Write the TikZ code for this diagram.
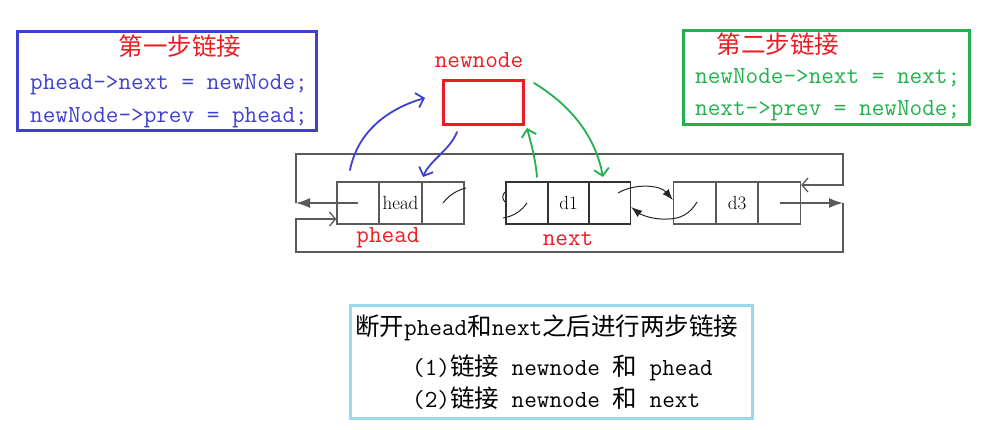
\documentclass[tikz,border=0pt]{standalone}
\usepackage{fontspec}
\newfontfamily\cjk{Noto Sans CJK SC}
\usetikzlibrary{arrows.meta}
\definecolor{cblue}{RGB}{64,64,208}
\definecolor{cgreen}{RGB}{34,177,76}
\definecolor{cred}{RGB}{237,28,36}
\definecolor{clblue}{RGB}{153,217,234}
\definecolor{cgray}{RGB}{90,90,90}
\newcommand\fszbig{\fontsize{24.5}{28}\selectfont}
\begin{document}
\begin{tikzpicture}[x=1pt,y=-1pt,
  framebox/.style={draw, line width=3pt, inner sep=0pt},
  cell/.style={draw=cgray, line width=1.3pt, minimum width=42pt, minimum height=42pt, inner sep=0pt, font=\fontsize{19}{22}\selectfont},
  code/.style={anchor=base west, inner sep=0pt, font=\ttfamily\fszbig},
  steptitle/.style={inner sep=0pt, text=cred, font=\cjk\fszbig},
  redlabel/.style={anchor=base, inner sep=0pt, text=cred, font=\ttfamily\fszbig},
  hand/.style={line width=1.8pt, line cap=round, line join=round, -{Straight Barb[length=7pt,width=15pt]}},
  loopline/.style={draw=cgray, line width=1.3pt},
  ptr/.style={draw=black!85, line width=1pt},
  filled/.style={-{Latex[length=14pt,width=10pt]}},
  openarr/.style={-{Straight Barb[length=6pt,width=14pt]}}
]
\useasboundingbox (0,0) rectangle (983,429);

% ---- frames ----
\node[framebox, draw=cblue, minimum width=299pt, minimum height=99pt] (bluebox) at (166.5,80.5) {};
\node[framebox, draw=cgreen, minimum width=286pt, minimum height=94pt] (greenbox) at (826,77) {};
\node[framebox, draw=clblue, minimum width=402pt, minimum height=113pt] (notebox) at (551,361.5) {};
\node[framebox, draw=cred, minimum width=80pt, minimum height=44pt] (newbox) at (483,102) {};

% ---- texts in frames ----
\node[steptitle] (t1) at (180,46) {第一步链接};
\node[code, text=cblue] (c11) at (30,89) {phead->next = newNode;};
\node[code, text=cblue] (c12) at (30,122) {newNode->prev = phead;};
\node[steptitle] (t2) at (778,44) {第二步链接};
\node[code, text=cgreen] (c21) at (695,83) {newNode->next = next;};
\node[code, text=cgreen] (c22) at (695,115) {next->prev = newNode;};
\node[code] (n1) at (355,335) {{\cjk 断开}phead{\cjk 和}next{\cjk 之后进行两步链接}};
\node[code] (n2) at (412,375) {(1){\cjk 链接} newnode {\cjk 和} phead};
\node[code] (n3) at (412,407) {(2){\cjk 链接} newnode {\cjk 和} next};

% ---- red labels ----
\node[redlabel] (lnew) at (479,67) {newnode};
\node[redlabel] (lphead) at (388,242) {phead};
\node[redlabel] (lnext) at (568,245) {next};

% ---- list nodes ----
\node[cell] (h1) at (358,203) {};
\node[cell] (h2) at (400.5,203) {head};
\node[cell] (h3) at (443,203) {};
\node[cell, draw=black!80] (d11) at (527,203) {};
\node[cell, draw=black!80] (d12) at (568.5,203) {d1};
\node[cell, draw=black!80] (d13) at (609.5,203) {};
\node[cell] (d31) at (694.5,203) {};
\node[cell] (d32) at (737,203) {d3};
\node[cell] (d33) at (779.5,203) {};

% ---- loop coordinates ----
\coordinate (L1) at (296,203);
\coordinate (TL) at (296,154);
\coordinate (TR) at (843,154);
\coordinate (R1) at (843,185);
\coordinate (R2) at (843,203);
\coordinate (BR) at (843,252);
\coordinate (BL) at (296,252);
\coordinate (L2) at (296,219);

\draw[loopline, filled] (h1.center) -- (L1);
\draw[loopline, openarr] (L1) -- (TL) -- (TR) -- (R1) -- ([yshift=18pt]d33.east);
\draw[loopline, filled] (d33.center) -- (R2);
\draw[loopline, openarr] (R2) -- (BR) -- (BL) -- (L2) -- ([yshift=-16pt]h1.west);

% ---- broken pointers ----
\draw[ptr] (h3.center) .. controls (450,194) and (458,190) .. (466,188);
\draw[ptr] (503,218) .. controls (515,216) and (522,210) .. (d11.center);
\draw[ptr] (505,192) .. controls (502,195) and (502,199) .. (505,202);
\draw[ptr, -{Latex[length=11pt,width=8pt]}] (618,193) .. controls (635,183) and (660,185) .. ([yshift=3pt]d31.west);
\draw[ptr, -{Latex[length=11pt,width=8pt]}] (697,202) .. controls (690,214) and (680,219) .. (668,219) .. controls (652,220) and (640,214) .. ([yshift=-4pt]d13.east);

% ---- hand-drawn arrows ----
\coordinate (b1s) at (350,170);
\coordinate (b1e) at (425,98);
\coordinate (b2s) at (457,132);
\coordinate (b2e) at (423,177);
\coordinate (g1s) at (537,177);
\coordinate (g1e) at (527,128);
\coordinate (g2s) at (534,83);
\coordinate (g2e) at (603,177);
\draw[hand, cblue] (b1s) .. controls (358,130) and (390,108) .. (b1e);
\draw[hand, cblue] (b2s) .. controls (450,150) and (430,160) .. (b2e);
\draw[hand, cgreen] (g1s) .. controls (535,155) and (530,140) .. (g1e);
\draw[hand, cgreen] (g2s) .. controls (570,105) and (595,135) .. (g2e);
\end{tikzpicture}
\end{document}
